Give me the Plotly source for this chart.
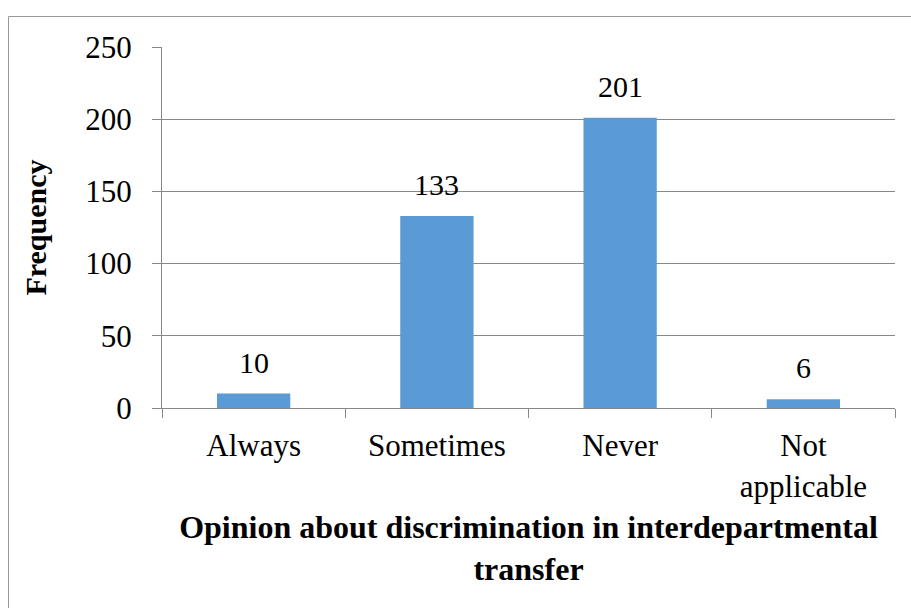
import plotly.graph_objects as go

categories = ["Always", "Sometimes", "Never", "Not<br>applicable"]
frequency = [10, 133, 201, 6]
y_ticks = [0, 50, 100, 150, 200, 250]

W, H = 911, 608
ML, MR, MT, MB = 162, 16, 47, 200
PW, PH = W - ML - MR, H - MT - MB

SERIF = "Liberation Serif, Times New Roman, serif"
GRID = "#888888"

fig = go.Figure(go.Bar(
    x=categories,
    y=frequency,
    marker=dict(color="#5B9BD5", line=dict(width=0)),
    width=0.4,
    hoverinfo="x+y",
))

# value labels above each bar
for cat, val in zip(categories, frequency):
    fig.add_annotation(x=cat, y=val, text=str(val), showarrow=False,
                       xref="x", yref="y", yanchor="bottom", yshift=13,
                       font=dict(family=SERIF, size=30, color="black"))

def px_x(p):
    return (p - ML) / PW

def px_y(p):
    return (H - MB - p) / PH

# chart-area frame
fig.add_shape(type="rect", xref="paper", yref="paper",
              x0=px_x(8.5), x1=px_x(940), y0=px_y(16.5), y1=px_y(640),
              line=dict(color="#999999", width=1), layer="below")

fig.update_layout(
    width=W, height=H,
    margin=dict(l=ML, r=MR, t=MT, b=MB),
    paper_bgcolor="white", plot_bgcolor="white",
    showlegend=False,
    font=dict(family=SERIF, color="black"),
)
fig.update_yaxes(
    range=[0, 250], tickvals=y_ticks,
    showgrid=True, gridcolor=GRID, gridwidth=1,
    showline=True, linecolor=GRID, linewidth=1,
    ticks="outside", ticklen=9, tickcolor=GRID,
    tickfont=dict(family=SERIF, size=31),
    ticklabelstandoff=14,
    zeroline=False,
    title=dict(text="<b>Frequency</b>", font=dict(family=SERIF, size=30), standoff=29),
)
fig.update_xaxes(
    showline=True, linecolor=GRID, linewidth=1,
    ticks="outside", ticklen=9, tickcolor=GRID, tickson="boundaries",
    tickfont=dict(family=SERIF, size=31),
    ticklabelstandoff=10,
    title=dict(text="<b>Opinion about discrimination in interdepartmental<br>transfer</b>",
               font=dict(family=SERIF, size=32), standoff=13),
)

fig.write_html("out.html")
